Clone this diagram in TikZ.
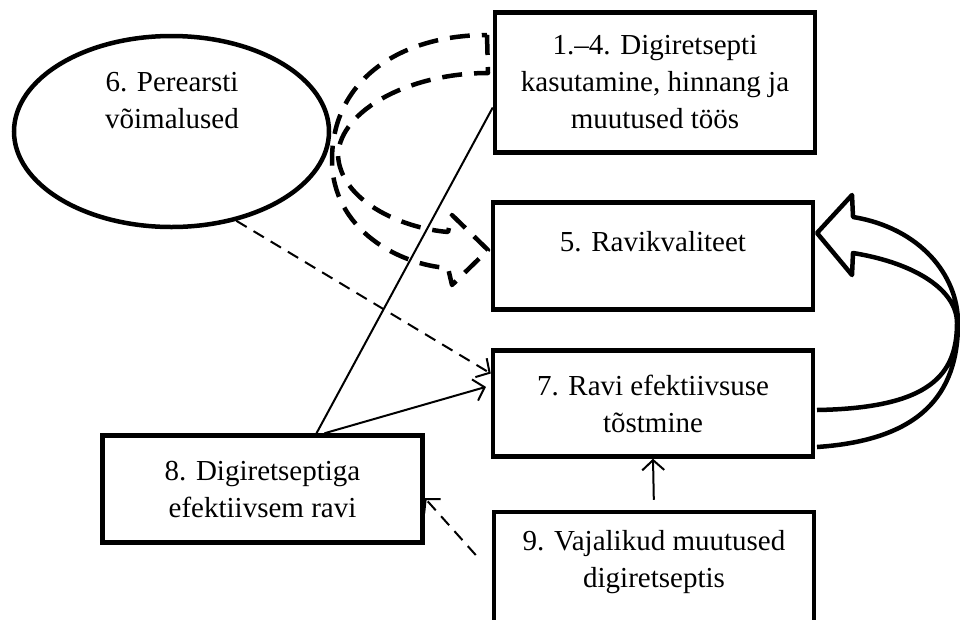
\documentclass[tikz,border=0pt]{standalone}
\usepackage{fontspec}
\setmainfont{Liberation Serif}
\usetikzlibrary{shapes.geometric,arrows.meta,calc}

\begin{document}
\begin{tikzpicture}[x=1pt,y=-1pt,
    txt/.style={align=center, font=\fontsize{29}{37}\selectfont},
    box/.style={txt, draw, line width=4.5pt, minimum width=320pt, inner sep=0pt},
    conn/.style={line width=2pt},
    arr/.style={conn, -{Straight Barb[length=10pt,width=22pt]}},
    dasharr/.style={arr, dash pattern=on 12pt off 8pt},
    bigdash/.style={line width=4.5pt, dash pattern=on 20pt off 12pt, line join=round},
    band/.style={line width=4.5pt, line join=round}]
    \useasboundingbox (0,0) rectangle (960,619);
    \node[draw, ellipse, line width=4.5pt, minimum width=315pt, minimum height=191pt, inner sep=0pt] (perearst) at (171.5,131.5) {};
    \node[txt] (perearsttxt) at (172,101) {6. Perearsti\\võimalused};
    \node[box, minimum height=140pt] (box14) at (655,82.5) {1.–4. Digiretsepti\\kasutamine, hinnang ja\\muutused töös};
    \node[box, minimum height=107pt] (box5) at (653,256) {};
    \node[txt] (box5txt) at (653,242) {5. Ravikvaliteet};
    \node[box, minimum height=106pt] (box7) at (653,403.5) {7. Ravi efektiivsuse\\tõstmine};
    \node[box, minimum height=107pt, minimum width=320pt] (box8) at (262.5,489) {8. Digiretseptiga\\efektiivsem ravi};
    \node[box, minimum height=112pt] (box9) at (654,568) {};
    \node[txt] (box9txt) at (654,562) {9. Vajalikud muutused\\digiretseptis};
    % connectors
    \draw[conn] ([xshift=54pt]box8.north) -- ([yshift=-25pt]box14.west);
    \draw[arr, shorten >=5pt] ([xshift=62pt]box8.north) -- ([yshift=18pt]box7.west);
    \draw[dasharr] (perearst.-54) -- ([yshift=30pt]box7.west);
    \draw[arr, shorten <=10pt] (box9.north) -- (box7.south);
    \draw[dasharr] ($(box9.west)+(-16,-13)$) -- ([yshift=-9pt]box8.east);
    % curved block arrows
    \draw[bigdash] (487,35) -- (488,73) .. controls (410,73) and (340,110) .. (338,155)
      .. controls (340,200) and (400,228) .. (448,232) -- (452,215) -- (488,250) -- (452,285) -- (448,268)
      .. controls (400,265) and (332,230) .. (332,160) .. controls (332,80) and (400,35) .. (487,35);
    \draw[band] (817,447) .. controls (920,440) and (958,395) .. (958,323)
      .. controls (958,275) and (920,228) .. (853,217) -- (852,195) -- (817,233) -- (852,275) -- (853,253)
      .. controls (915,263) and (957,290) .. (957,323) .. controls (957,375) and (930,408) .. (817,410);
\end{tikzpicture}
\end{document}
